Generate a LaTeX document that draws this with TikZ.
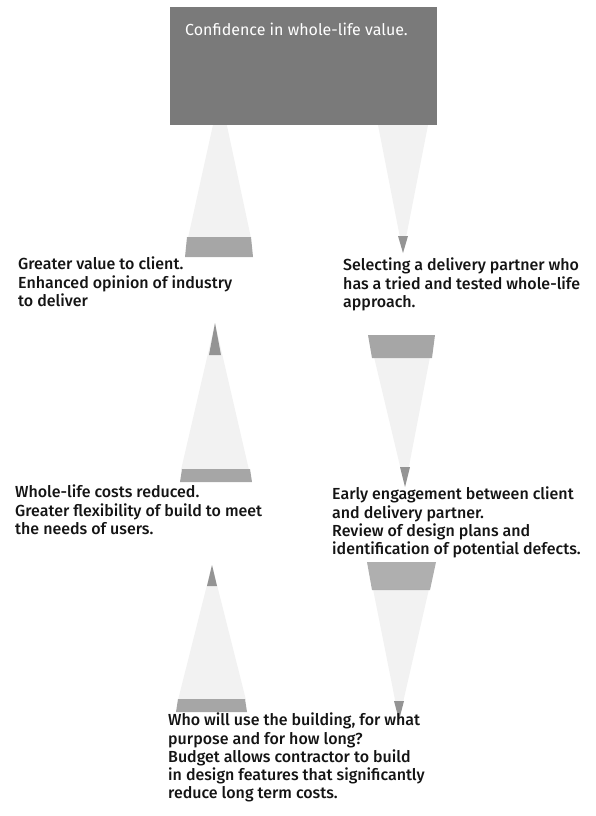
\documentclass[tikz,border=0pt]{standalone}
\usepackage{fontspec}
\setmainfont{Fira Sans}
\newfontfamily\medfont{Fira Sans Medium}
\usetikzlibrary{calc}

\tikzset{
  cone/.style={fill=black!5},
  tipmark/.style={fill=black!42},
  basebar/.style={fill=black!35},
  note/.style={anchor=north west, inner sep=0pt, align=left, text=black!92,
    font=\medfont\fontsize{16}{18.2}\selectfont},
}

\begin{document}
\begin{tikzpicture}[x=1pt, y=-1pt]
		%%%%% START %%%%%
		\useasboundingbox (0,0) rectangle (595,816);
		
		% left column, pointing up
		\fill[cone] (220,93) -- (188,238) -- (251,238) -- cycle;
		\fill[basebar] (187,237) -- (251,237) -- (253,257) -- (185,257) -- cycle;
		
		\fill[cone] (215,323) -- (181,470) -- (249,470) -- cycle;
		\fill[tipmark] (215,323) -- (209,355) -- (221,355) -- cycle;
		\fill[basebar] (182,469) -- (250,469) -- (252,482) -- (180,482) -- cycle;
		
		\fill[cone] (212,565) -- (178,700) -- (246,700) -- cycle;
		\fill[tipmark] (212,565) -- (207,586) -- (217,586) -- cycle;
		\fill[basebar] (178,699) -- (245,699) -- (247,712) -- (176,712) -- cycle;
		
		% right column, pointing down
		\fill[cone] (377,120) -- (429,120) -- (403,253) -- cycle;
		\fill[tipmark] (398,236) -- (408,236) -- (403,253) -- cycle;
		
		\fill[cone] (374,357) -- (430,357) -- (405,487) -- cycle;
		\fill[tipmark] (400,467) -- (410,467) -- (405,487) -- cycle;
		\fill[basebar] (368,335) -- (435,335) -- (432,358) -- (372,358) -- cycle;
		
		\fill[cone] (373,589) -- (429,589) -- (399,720) -- cycle;
		\fill[tipmark] (394,701) -- (404,701) -- (399,720) -- cycle;
		
		% top box
		\node[fill=black!52, minimum width=267, minimum height=118, anchor=north west, inner sep=0pt] (goal) at (170,7) {};
		\node[anchor=north west, inner sep=0pt, text=white, font=\fontsize{16}{18.2}\selectfont] (goaltext) at (185,23) {Confidence in whole-life value.};
		
		% texts
		\node[note] (value) at (18,257) {Greater value to client.\\Enhanced opinion of industry\\to deliver};
		\node[note] (partner) at (343,258) {Selecting a delivery partner who\\has a tried and tested whole-life\\approach.};
		\node[note] (costs) at (15,485) {Whole-life costs reduced.\\Greater flexibility of build to meet\\the needs of users.};
		\node[note] (engage) at (332,487) {Early engagement between client\\and delivery partner.\\Review of design plans and\\identification of potential defects.};
		\node[note] (brief) at (168,713) {Who will use the building, for what\\purpose and for how long?\\Budget allows contractor to build\\in design features that significantly\\reduce long term costs.};
		
		\fill[basebar, opacity=0.9] (367,562) -- (436,562) -- (430,590) -- (372,590) -- cycle;
		
		%%%%% END %%%%%
\end{tikzpicture}
\end{document}
